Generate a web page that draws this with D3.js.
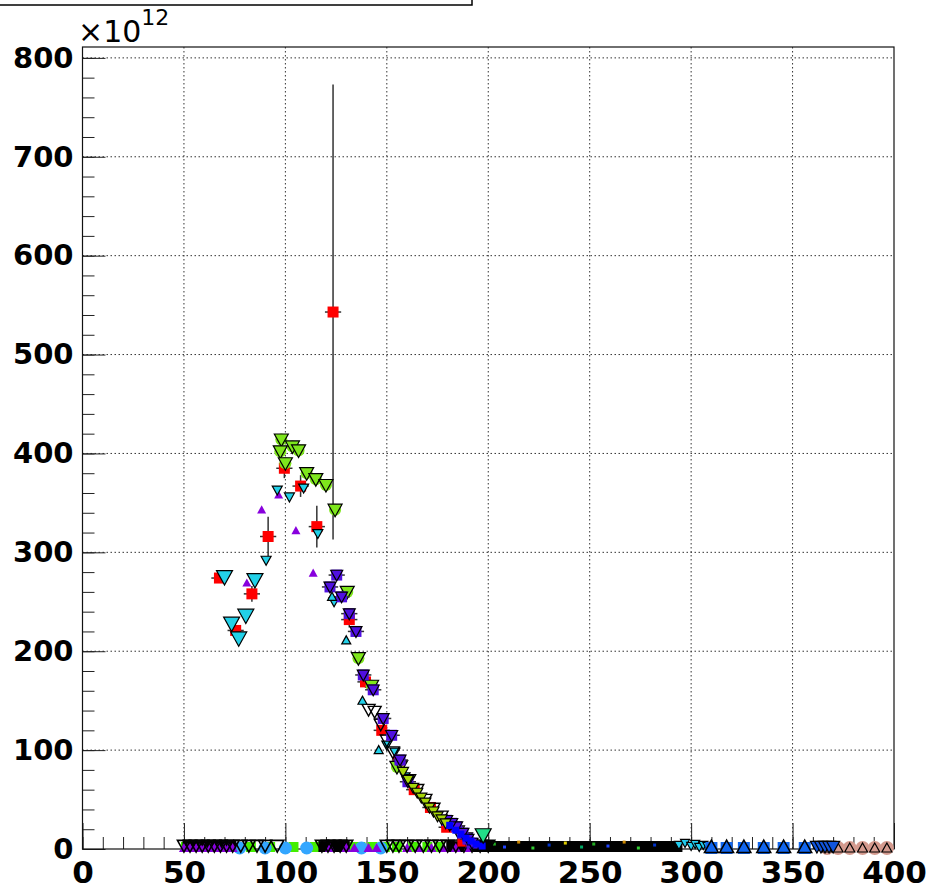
<!DOCTYPE html>
<html>
<head>
<meta charset="utf-8">
<script src="https://cdn.jsdelivr.net/npm/d3@7"></script>
<style>
  body { margin: 0; background: #fff; }
  svg { display: block; }
</style>
</head>
<body>
<svg id="chart"></svg>
<script>
"use strict";

// ---- data (values in units of 1e12) ----
const redX   = [67.5, 75.5, 83.5, 91.5, 99.5, 107.5, 115.5, 123.5, 131.5, 139.5, 147.5, 155.5, 163.5, 171.5, 179.5, 187.5];
const redY   = [274, 221, 258, 316, 385, 367, 326, 543, 232, 169, 120, 88, 60, 42, 22, 8];
const redErr = [3, 4, 8, 20, 10, 11, 21, 230, 8, 6, 5, 4, 4, 3, 2, 2];

const cyanBigX = [70, 73.5, 77, 80.5, 85];
const cyanBigY = [275, 228, 213, 236, 272];

const cyanDownX = [90.5, 96, 102, 109, 116, 124, 150, 154, 159];
const cyanDownY = [292, 363, 356, 365, 319, 250, 105, 98, 73];

const cyanUpX = [123, 130, 138, 146];
const cyanUpY = [255, 211, 150, 100];

const greenX = [98, 97.5, 100, 103.5, 106.5, 110.5, 115, 120, 124.5, 130.5, 136, 142.5, 155];
const greenY = [414, 402, 390, 407, 403, 380, 374, 368, 343, 260, 193, 165, 83];

const purpleX = [81, 88.3, 96.7, 105.2, 113.7];
const purpleY = [269, 343, 358, 322, 279];

const indigoX = [122, 125.3, 127.7, 131.5, 134.8, 138.4, 143.3, 148.2, 152.4, 156.5, 160.4, 179.5, 182, 184.4, 187.5, 190, 192];
const indigoY = [265, 277, 255, 238, 220, 176, 161, 132, 115, 90, 68, 29, 26, 22.5, 16, 10, 6];

const openTriX = [141, 144, 147, 150, 153, 157, 161, 165, 169, 173, 177, 181, 185, 189];
const openTriY = [141, 139, 126, 110, 98, 84, 70, 60, 50, 41, 33, 25, 18, 11];

const limeX = [158, 160.5, 163, 165, 167, 169, 171, 173, 175, 177, 179];
const limeY = [78, 70, 62, 57, 52, 47, 42, 38, 33, 30, 26];

const blueTailX = [181, 184, 186.5, 189, 191.5, 194, 197];
const blueTailY = [24, 19, 15, 11, 8, 5, 3];

const springX = [197.5];
const springY = [14];

// points sitting on the baseline
const basePurpleX = [50, 52, 53, 56, 58, 60, 63, 65, 67, 70, 72, 74, 122, 130, 134, 141, 145, 160, 166, 172, 178, 184, 190];
const baseGreenX  = [51, 55, 58, 62, 66, 69, 72, 83, 92.5, 104, 114.5, 126, 133, 137, 143, 149, 155, 163, 170, 176];
const baseBlueX   = [77.5, 90, 100, 110.5, 137.5, 147];
const baseTriX    = [50, 53, 56, 59, 62, 65, 68, 71, 74, 78, 82, 86, 90, 96, 118, 121, 124, 127, 130,
                     150, 153, 156, 160, 164, 168, 172, 176, 180, 184, 188, 192, 196, 200];
const baseDarkX   = [52, 57, 61, 64, 68, 73, 119, 123, 126, 129, 182, 186, 189, 192,
                     196, 198, 201, 203, 206, 208, 211, 213, 216, 218, 221, 223, 226, 228, 231, 233, 236, 238, 241, 243,
                     246, 248, 251, 253, 256, 258, 261, 263, 266, 268, 271, 273, 276, 278, 281, 283, 286, 288, 291, 293];
const dotX        = [203, 208, 215, 222, 230, 238, 246, 252, 259, 267, 274, 282];
const dotY        = [5, 2, 7, 1, 4, 6, 2, 5, 3, 7, 1, 4];
const baseCyanX   = [294, 297, 300, 302, 304, 306, 308];
const baseCyanY   = [4, 6, 3, 5, 2, 4, 3];
const baseBlueSqX = [310, 317.5, 326, 335.8, 345.6, 356];
const baseMixX    = [362, 364, 366, 368, 370];
const basePinkX   = [367, 372.4, 378.2, 384.5, 390.5, 396.5];

const xTicks = [0, 50, 100, 150, 200, 250, 300, 350, 400];
const yTicks = [0, 100, 200, 300, 400, 500, 600, 700, 800];

// ---- layout ----
const width = 929;
const height = 890;
const frame = { left: 82.5, right: 894, top: 47, bottom: 849 };

const svg = d3.select("#chart")
    .attr("width", width)
    .attr("height", height);

const x = d3.scaleLinear().domain([0, 400]).range([frame.left, frame.right]);
const y = d3.scaleLinear().domain([0, 811]).range([frame.bottom, frame.top]);

// marker outline relative to its centre
function markerPath(shape, s) {
    const h = s / 2;
    if (shape === "square") return `M${-h},${-h}H${h}V${h}H${-h}Z`;
    if (shape === "triUp") return `M0,${-h}L${h},${h * 0.8}L${-h},${h * 0.8}Z`;
    if (shape === "triDown") return `M${-h},${-h * 0.8}L${h},${-h * 0.8}L0,${h}Z`;
    return d3.symbol(d3.symbolCircle, Math.PI * h * h)();
}

// legend box sticking out of the top
svg.append("rect")
    .attr("x", -10).attr("y", -60)
    .attr("width", 482).attr("height", 65)
    .attr("fill", "#fff")
    .attr("stroke", "#000")
    .attr("stroke-width", 1.5);

// grid
const grid = svg.append("g")
    .attr("stroke", "#333")
    .attr("stroke-width", 1)
    .attr("stroke-dasharray", "1.5,2.5");
grid.selectAll(".gx")
    .data(xTicks.slice(1, -1))
    .join("line")
    .attr("x1", d => x(d)).attr("x2", d => x(d))
    .attr("y1", frame.top).attr("y2", frame.bottom);
grid.selectAll(".gy")
    .data(yTicks.slice(1))
    .join("line")
    .attr("x1", frame.left).attr("x2", frame.right)
    .attr("y1", d => y(d)).attr("y2", d => y(d));

// axes (ticks point inward)
const fontFamily = "'DejaVu Sans', 'Liberation Sans', Arial, sans-serif";

svg.append("g")
    .attr("transform", `translate(0,${frame.bottom})`)
    .call(d3.axisBottom(x).tickValues(d3.range(0, 401, 10)).tickSize(-12).tickFormat(""))
    .call(g => g.select(".domain").remove())
    .call(g => g.selectAll("line").attr("stroke", "#222"));

svg.append("g")
    .attr("transform", `translate(0,${frame.bottom})`)
    .call(d3.axisBottom(x).tickValues(xTicks).tickSize(-26).tickPadding(12).tickFormat(d3.format("d")))
    .call(g => g.select(".domain").remove())
    .call(g => g.selectAll("line").attr("stroke", "#222"))
    .call(g => g.selectAll("text")
        .attr("fill", "#000")
        .style("font-family", fontFamily)
        .style("font-weight", "bold")
        .style("font-size", "31px"));

svg.append("g")
    .attr("transform", `translate(${frame.left},0)`)
    .call(d3.axisLeft(y).tickValues(d3.range(0, 801, 20)).tickSize(-12).tickFormat(""))
    .call(g => g.select(".domain").remove())
    .call(g => g.selectAll("line").attr("stroke", "#222"));

svg.append("g")
    .attr("transform", `translate(${frame.left},0)`)
    .call(d3.axisLeft(y).tickValues(yTicks).tickSize(-23).tickPadding(9).tickFormat(d3.format("d")))
    .call(g => g.select(".domain").remove())
    .call(g => g.selectAll("line").attr("stroke", "#222"))
    .call(g => g.selectAll("text")
        .attr("fill", "#000")
        .style("font-family", fontFamily)
        .style("font-weight", "bold")
        .style("font-size", "29px"));

// frame
svg.append("rect")
    .attr("x", frame.left).attr("y", frame.top)
    .attr("width", frame.right - frame.left)
    .attr("height", frame.bottom - frame.top)
    .attr("fill", "none")
    .attr("stroke", "#111")
    .attr("stroke-width", 1.2);

// exponent label
svg.append("text")
    .attr("x", 78).attr("y", 42)
    .style("font-family", fontFamily)
    .style("font-size", "30px")
    .text("\u00d710")
    .append("tspan")
    .attr("dy", -17)
    .style("font-size", "22px")
    .text("12");

// ---- series ----
const ones = n => new Array(n).fill(1);
const layers = [
    { xs: baseGreenX, ys: baseGreenX.map(() => 2), shape: "square", size: 10, fill: "#44ee00" },
    { xs: baseBlueX, ys: ones(baseBlueX.length), shape: "circle", size: 13, fill: "#33a6ff" },
    { xs: baseDarkX, ys: baseDarkX.map(() => 2.5), shape: "square", size: 11, fill: "#000" },
    { xs: dotX, ys: dotY, shape: "square", size: 3, fill: "#2a2", colors: ["#22aa22", "#2244ff", "#cc8800", "#33cc33", "#0033cc", "#ddcc00", "#00aa66"] },
    { xs: basePurpleX, ys: ones(basePurpleX.length), shape: "triUp", size: 10, fill: "#8800dd" },
    { xs: baseTriX, ys: baseTriX.map(() => 3.5), shape: "triDown", size: 13, fill: "none", stroke: "#000", sw: 1.6 },
    { xs: baseCyanX, ys: baseCyanY, shape: "triDown", size: 9, fill: "#22ccee", stroke: "#000" },
    { xs: baseBlueSqX, ys: ones(baseBlueSqX.length), shape: "square", size: 12, fill: "#1166ee" },
    { xs: baseBlueSqX, ys: baseBlueSqX.map(() => 2), shape: "triUp", size: 14, fill: "none", stroke: "#000", sw: 1.5 },
    { xs: basePinkX, ys: ones(basePinkX.length), shape: "circle", size: 14, fill: "#d49a8e" },
    { xs: basePinkX, ys: ones(basePinkX.length), shape: "triUp", size: 10, fill: "none", stroke: "#000" },
    { xs: baseMixX, ys: baseMixX.map(() => 2.5), shape: "triDown", size: 13, fill: "#1155dd", stroke: "#000" },

    { xs: purpleX, ys: purpleY, shape: "triUp", size: 9, fill: "#8800dd" },
    { xs: redX, ys: redY, shape: "square", size: 11, fill: "#ff0000", err: redErr, xerr: 4 },
    { xs: cyanBigX, ys: cyanBigY, shape: "triDown", size: 16, fill: "#22d0e8", stroke: "#000" },
    { xs: cyanDownX, ys: cyanDownY, shape: "triDown", size: 10, fill: "#22d0e8", stroke: "#000" },
    { xs: greenX, ys: greenY, shape: "circle", size: 12, fill: "#7ee61c" },
    { xs: greenX, ys: greenY, shape: "triDown", size: 14, fill: "#7ee61c", stroke: "#000" },
    { xs: openTriX, ys: openTriY, shape: "triDown", size: 13, fill: "none", stroke: "#000", sw: 1.4 },
    { xs: indigoX, ys: indigoY, shape: "square", size: 11, fill: "#5010e0", xerr: 4 },
    { xs: indigoX, ys: indigoY, shape: "triDown", size: 12, fill: "none", stroke: "#000" },
    { xs: cyanUpX, ys: cyanUpY, shape: "triUp", size: 9, fill: "#22d0e8", stroke: "#000" },
    { xs: limeX, ys: limeY, shape: "triDown", size: 11, fill: "#a6d608", stroke: "#000" },
    { xs: blueTailX, ys: blueTailY, shape: "square", size: 7, fill: "#0000ff" },
    { xs: springX, ys: springY, shape: "triDown", size: 16, fill: "#22dd88", stroke: "#000" }
];

const plot = svg.append("g");

layers.forEach(layer => {
    const pts = layer.xs.map((xv, i) => ({ x: xv, y: layer.ys[i], e: layer.err ? layer.err[i] : 0, i: i }));
    const g = plot.append("g");

    if (layer.err || layer.xerr) {
        const eg = g.append("g").attr("stroke", "#333").attr("stroke-width", 1.5);
        if (layer.err) {
            eg.selectAll(".ev")
                .data(pts.filter(d => d.e > 0))
                .join("line")
                .attr("x1", d => x(d.x)).attr("x2", d => x(d.x))
                .attr("y1", d => y(d.y - d.e)).attr("y2", d => y(d.y + d.e));
        }
        eg.selectAll(".eh")
            .data(pts)
            .join("line")
            .attr("x1", d => x(d.x - layer.xerr)).attr("x2", d => x(d.x + layer.xerr))
            .attr("y1", d => y(d.y)).attr("y2", d => y(d.y));
    }

    g.selectAll("path")
        .data(pts)
        .join("path")
        .attr("transform", d => `translate(${x(d.x)},${y(d.y)})`)
        .attr("d", markerPath(layer.shape, layer.size))
        .attr("fill", d => layer.colors ? layer.colors[d.i % layer.colors.length] : layer.fill)
        .attr("stroke", layer.stroke || "none")
        .attr("stroke-width", layer.sw || 1.2);
});
</script>
</body>
</html>
